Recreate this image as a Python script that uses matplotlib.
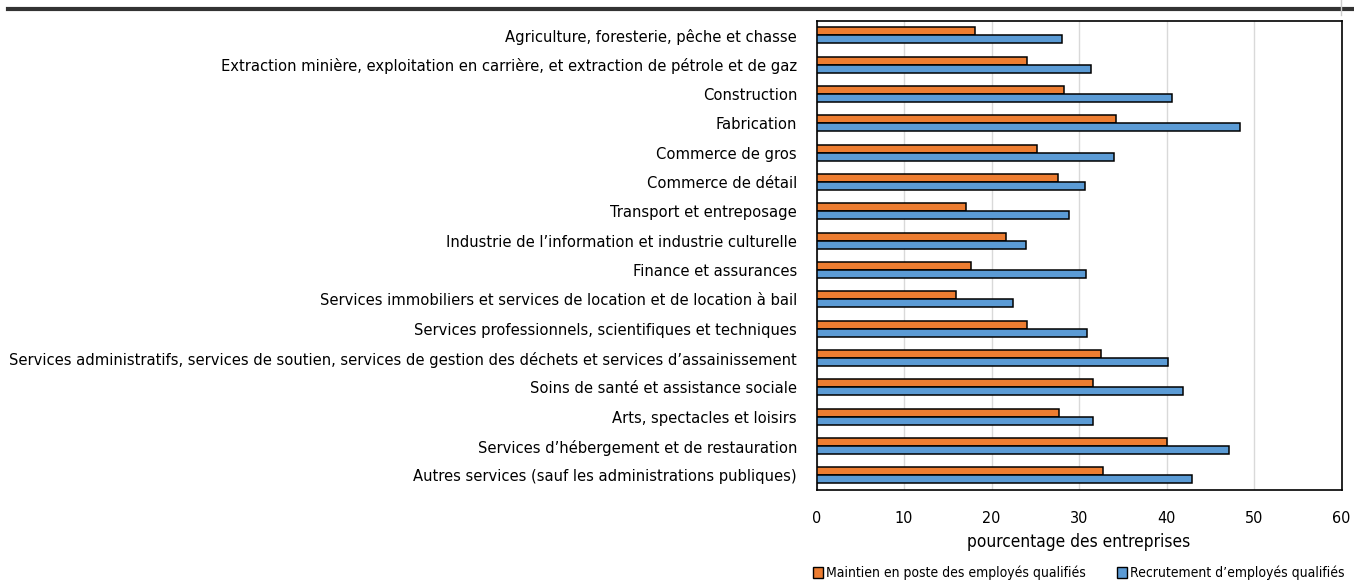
import matplotlib
matplotlib.use("Agg")
import matplotlib.pyplot as plt
from matplotlib.lines import Line2D
from matplotlib.patches import Patch
import numpy as np

plt.rcParams['font.family'] = ['DejaVu Sans']
plt.rcParams['font.stretch'] = 'condensed'

categories = [
    "Agriculture, foresterie, pêche et chasse",
    "Extraction minière, exploitation en carrière, et extraction de pétrole et de gaz",
    "Construction",
    "Fabrication",
    "Commerce de gros",
    "Commerce de détail",
    "Transport et entreposage",
    "Industrie de l\u2019information et industrie culturelle",
    "Finance et assurances",
    "Services immobiliers et services de location et de location à bail",
    "Services professionnels, scientifiques et techniques",
    "Services administratifs, services de soutien, services de gestion des déchets et services d\u2019assainissement",
    "Soins de santé et assistance sociale",
    "Arts, spectacles et loisirs",
    "Services d\u2019hébergement et de restauration",
    "Autres services (sauf les administrations publiques)",
]
maintien = [18.1, 24.1, 28.3, 34.2, 25.2, 27.6, 17.1, 21.6, 17.6, 15.9, 24.1, 32.5, 31.6, 27.7, 40.1, 32.7]
recrutement = [28.1, 31.4, 40.6, 48.4, 34.0, 30.7, 28.8, 23.9, 30.8, 22.5, 30.9, 40.2, 41.9, 31.6, 47.1, 42.9]
series_names = ["Maintien en poste des employés qualifiés", "Recrutement d\u2019employés qualifiés"]
xticks = [0, 10, 20, 30, 40, 50, 60]
xlabel = "pourcentage des entreprises"

orange = "#ED7D31"
blue = "#5B9BD5"

fig = plt.figure(figsize=(13.54, 5.83), dpi=100)
ax = fig.add_axes([816.5/1354, 1-490/583, (1341.5-816.5)/1354, (490-20.7)/583])

y = np.arange(len(categories))
h = 0.27
ax.barh(y - h/2, maintien, height=h, color=orange, edgecolor="black", linewidth=1.1, zorder=3)
ax.barh(y + h/2, recrutement, height=h, color=blue, edgecolor="black", linewidth=1.1, zorder=3)

ax.set_ylim(len(categories) - 0.5, -0.5)
ax.set_xlim(0, 60)
ax.set_yticks(y)
ax.set_yticklabels(categories, fontsize=11.82)
ax.set_xticks(xticks)
ax.set_xticklabels([str(t) for t in xticks], fontsize=11.5)
ax.tick_params(axis='both', length=0)
ax.tick_params(axis='x', pad=15)
ax.tick_params(axis='y', pad=14)
ax.grid(axis='x', color="#d9d9d9", linewidth=1.0, zorder=0)
for s in ax.spines.values():
    s.set_linewidth(1.2)
    s.set_color("black")
ax.set_xlabel(xlabel, fontsize=12.4, labelpad=5)

handles = [Patch(facecolor=orange, edgecolor="black", linewidth=1.0),
           Patch(facecolor=blue, edgecolor="black", linewidth=1.0)]
fig.legend(handles, series_names, loc="lower right", bbox_to_anchor=(1.0, -0.012),
           ncol=2, frameon=False, fontsize=10, handlelength=0.75, handleheight=0.85,
           handletextpad=0.2, columnspacing=2.2, borderaxespad=0.3)

# top rule
fig.add_artist(Line2D([8/1354, 1.0], [1-8.5/583, 1-8.5/583], color="#333333", linewidth=3.0))
fig.add_artist(Line2D([1341/1354, 1341/1354], [1.0, 1-15/583], color="#cccccc", linewidth=1.0))

fig.savefig("out.png", dpi=100)
